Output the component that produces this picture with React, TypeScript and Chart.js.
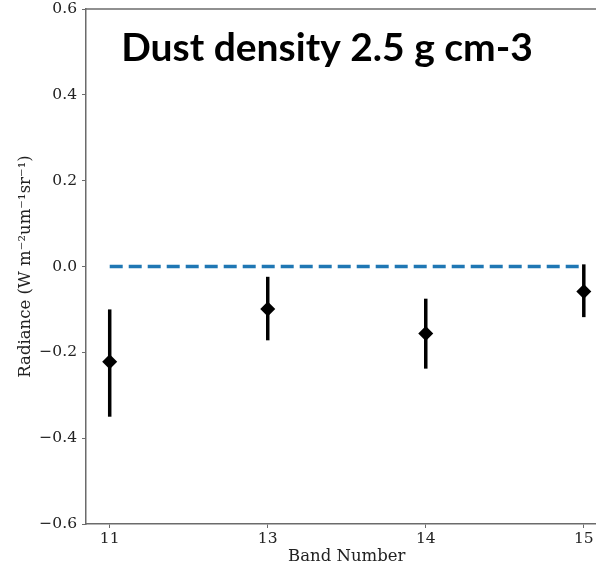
import React, { useEffect, useRef } from "react";
import { Chart, registerables } from "chart.js";

Chart.register(...registerables);

const bands = ["11", "13", "14", "15"];
const radiance = [-0.222, -0.099, -0.156, -0.058];
const errLow = [-0.35, -0.172, -0.238, -0.118];
const errHigh = [-0.1, -0.024, -0.075, 0.005];
const zeroLine = [0, 0, 0, 0];
const yTicks = [-0.6, -0.4, -0.2, 0.0, 0.2, 0.4, 0.6];
const titleText = "Dust density 2.5 g cm-3";
const yTitle = "Radiance (W m\u207B\u00B2um\u207B\u00B9sr\u207B\u00B9)";
const xTitle = "Band Number";

const SERIF = "'DejaVu Serif', serif";
const SPINE = "#6b6b6b";
const FS = 15.5;
const LFS = 16.5;

export default function App() {
  const ref = useRef<HTMLCanvasElement | null>(null);
  useEffect(() => {
    const canvas = ref.current;
    if (!canvas) return;
    const extras = {
      id: "extras",
      beforeDatasetsDraw(chart: any) {
        const { ctx, scales, chartArea } = chart;
        const x = scales.x;
        const y = scales.y;
        ctx.save();
        ctx.strokeStyle = SPINE;
        ctx.lineWidth = 1.5;
        ctx.beginPath();
        ctx.moveTo(chartArea.left, chartArea.top);
        ctx.lineTo(chartArea.right, chartArea.top);
        ctx.stroke();
        ctx.strokeStyle = "#000";
        ctx.lineWidth = 3.5;
        radiance.forEach((_, i) => {
          const px = x.getPixelForValue(i);
          ctx.beginPath();
          ctx.moveTo(px, y.getPixelForValue(errLow[i]));
          ctx.lineTo(px, y.getPixelForValue(errHigh[i]));
          ctx.stroke();
        });
        ctx.restore();
      },
      afterDatasetsDraw(chart: any) {
        const { ctx, chartArea } = chart;
        ctx.save();
        ctx.fillStyle = "#000";
        ctx.font = "bold 39px Lato, 'Open Sans', sans-serif";
        ctx.textAlign = "center";
        ctx.textBaseline = "alphabetic";
        ctx.fillText(titleText, chartArea.left + 241, chartArea.top + 52);
        ctx.restore();
      },
    };
    const chart = new Chart(canvas, {
      type: "line",
      data: {
        labels: bands,
        datasets: [
          {
            type: "scatter",
            data: radiance.map((v, i) => ({ x: i, y: v })),
            pointStyle: "rectRot",
            pointRadius: 7.5,
            backgroundColor: "#000",
            borderColor: "#000",
            borderWidth: 0,
            showLine: false,
            order: 0,
          },
          {
            type: "line",
            data: zeroLine.map((v, i) => ({ x: i, y: v })),
            borderColor: "#1f77b4",
            borderWidth: 3.5,
            borderDash: [13, 6],
            pointRadius: 0,
            fill: false,
            order: 1,
          },
        ] as any,
      },
      options: {
        animation: false,
        responsive: false,
        devicePixelRatio: 1,
        layout: { padding: { top: 9, right: 0, bottom: 0, left: 0 } },
        plugins: { legend: { display: false }, tooltip: { enabled: false }, title: { display: false } },
        scales: {
          x: {
            type: "linear",
            min: -0.15,
            max: 3.15,
            afterBuildTicks: (s: any) => {
              s.ticks = bands.map((_, i) => ({ value: i }));
            },
            afterFit: (s: any) => {
              s.height = 46;
            },
            ticks: {
              callback: (v: any) => bands[Number(v)] ?? "",
              color: "#222",
              font: { family: SERIF, size: FS },
              padding: 2,
              maxRotation: 0,
              autoSkip: false,
            },
            grid: { drawOnChartArea: false, drawTicks: true, tickLength: 4, tickColor: SPINE, tickWidth: 1 },
            border: { display: true, color: SPINE, width: 1.5 },
            title: {
              display: true,
              text: xTitle,
              color: "#222",
              font: { family: SERIF, size: LFS },
              padding: { top: 0, bottom: 3 },
            },
          },
          y: {
            type: "linear",
            min: -0.6,
            max: 0.6,
            afterBuildTicks: (s: any) => {
              s.ticks = yTicks.map((v) => ({ value: v }));
            },
            afterFit: (s: any) => {
              s.width = 86;
              s.paddingTop = 0;
              s.paddingBottom = 0;
            },
            ticks: {
              callback: (v: any) => {
                const n = Number(v);
                const t = Math.abs(n) < 1e-9 ? "0.0" : n.toFixed(1);
                return t.replace("-", "\u2212");
              },
              color: "#222",
              font: { family: SERIF, size: FS },
              padding: 5,
            },
            grid: { drawOnChartArea: false, drawTicks: true, tickLength: 4, tickColor: SPINE, tickWidth: 1 },
            border: { display: true, color: SPINE, width: 1.5 },
            title: {
              display: true,
              text: yTitle,
              color: "#222",
              font: { family: SERIF, size: LFS },
              padding: { top: 16, bottom: 0 },
            },
          },
        },
      },
      plugins: [extras],
    });
    return () => chart.destroy();
  }, []);
  return (
    <div style={{ position: "fixed", left: 0, top: 0, width: 596, height: 570, overflow: "hidden", background: "#fff" }}>
      <canvas ref={ref} width={615} height={570} style={{ display: "block" }} />
    </div>
  );
}
